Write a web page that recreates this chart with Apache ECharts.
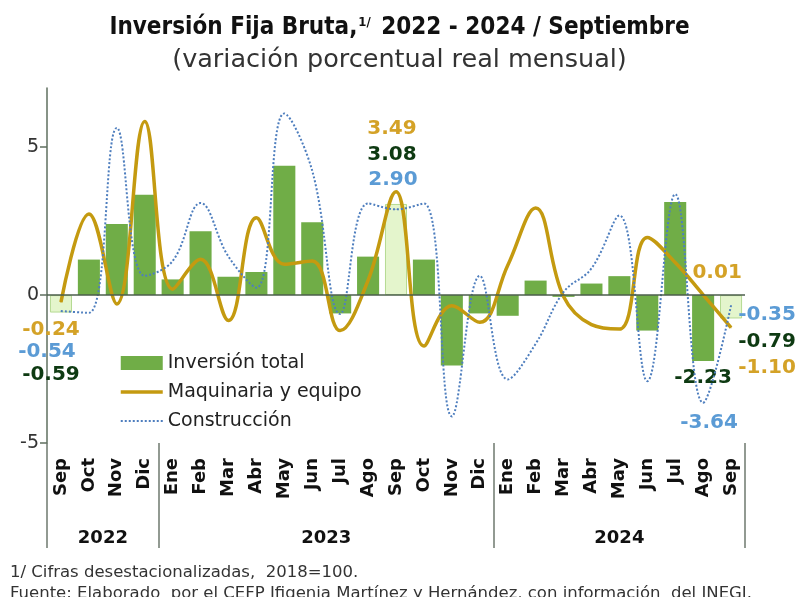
<!DOCTYPE html>
<html>
<head>
<meta charset="utf-8">
<script src="https://cdn.jsdelivr.net/npm/echarts@6/dist/echarts.min.js"></script>
<style>html,body{margin:0;padding:0;background:#fff}#c{width:799px;height:597px}</style>
</head>
<body>
<div id="c"></div>
<script>
var months = ['Sep','Oct','Nov','Dic','Ene','Feb','Mar','Abr','May','Jun','Jul','Ago','Sep','Oct','Nov','Dic','Ene','Feb','Mar','Abr','May','Jun','Jul','Ago','Sep'];
var years = ['2022','2023','2024'];
var yearLabelIndex = {1: '2022', 9: '2023', 20: '2024'};
var groupStarts = [0, 4, 16];
var yTicks = [-5, 0, 5];
var inversionTotal = [-0.59, 1.20, 2.40, 3.39, 0.53, 2.16, 0.62, 0.78, 4.37, 2.46, -0.62, 1.30, 3.08, 1.20, -2.38, -0.62, -0.70, 0.49, -0.06, 0.39, 0.64, -1.20, 3.15, -2.23, -0.79];
var maquinaria = [-0.24, 2.74, -0.30, 5.87, 0.20, 1.21, -0.86, 2.61, 1.04, 1.15, -1.20, 0.50, 3.49, -1.72, -0.36, -0.92, 1.00, 2.94, -0.05, -1.00, -1.15, 1.95, 1.10, 0.01, -1.10];
var construccion = [-0.54, -0.60, 5.65, 0.65, 1.15, 3.11, 1.30, 0.25, 6.14, 4.20, -0.64, 3.10, 2.90, 3.10, -4.10, 0.65, -2.85, -1.65, 0.10, 0.90, 2.69, -2.91, 3.41, -3.64, -0.35];
var highlightIdx = [0, 12, 24];

var FONT = 'DejaVu Sans';
var C_BAR = '#70AD47', C_BAR_L = '#E4F5CC', C_BAR_LB = '#B5DA92';
var C_GOLD = '#C49A10', C_GOLD_T = '#D4A227';
var C_BLUE = '#4E7EBE', C_BLUE_T = '#5B9BD5';
var C_GREEN_T = '#0E3A12';

// label offsets (pixels) per series for labeled indices
var labelOffsets = {
  bar:  {0: [-10, 71], 12: [-4, -95], 23: [0, 50], 24: [36, 35]},
  gold: {0: [-10, 28], 12: [-4, -63], 23: [14, -22], 24: [36, 40]},
  blue: {0: [-14, 41], 12: [-3, -29], 23: [6, 20], 24: [36, 9]}
};
var showLabels = {
  bar: [0, 12, 23, 24],
  gold: [0, 12, 23, 24],
  blue: [0, 12, 23, 24]
};

function lbl(color, off) {
  return {show: true, position: 'inside', offset: off, color: color, fontFamily: FONT,
    fontWeight: 'bold', fontSize: 20, textBorderWidth: 0,
    formatter: function (p) { return Number(p.value).toFixed(2); }};
}

var barData = inversionTotal.map(function (v, i) {
  var d = {value: v};
  if (highlightIdx.indexOf(i) >= 0) d.itemStyle = {color: C_BAR_L, borderColor: C_BAR_LB, borderWidth: 1};
  if (showLabels.bar.indexOf(i) >= 0) d.label = lbl(C_GREEN_T, labelOffsets.bar[i]);
  return d;
});
function lineData(arr, key, color) {
  return arr.map(function (v, i) {
    var d = {value: v};
    if (showLabels[key].indexOf(i) >= 0) {
      d.symbol = 'circle'; d.symbolSize = 1;
      d.label = lbl(color, labelOffsets[key][i]);
    }
    return d;
  });
}
var hiddenSym = {color: 'rgba(0,0,0,0)', borderWidth: 0, opacity: 0};

var chart = echarts.init(document.getElementById('c'));
chart.setOption({
  animation: false,
  backgroundColor: '#fff',
  textStyle: {fontFamily: FONT},
  title: [
    {text: '{b|Inversión Fija Bruta,}{s|1/}{b| 2022 - 2024 / Septiembre}', left: 'center', top: 11,
     textStyle: {rich: {
       b: {fontFamily: 'DejaVu Sans Condensed', fontWeight: 'bold', fontSize: 24, color: '#111'},
       s: {fontFamily: 'DejaVu Sans Condensed', fontSize: 13, color: '#111', padding: [0, 3, 11, 1]}
     }}},
    {text: '(variación porcentual real mensual)', left: 'center', top: 42,
     textStyle: {fontFamily: FONT, fontWeight: 'normal', fontSize: 25.5, color: '#333'}},
    {text: '1/ Cifras desestacionalizadas,  2018=100.', left: 5, top: 559,
     textStyle: {fontFamily: FONT, fontWeight: 'normal', fontSize: 16.5, color: '#333'}},
    {text: 'Fuente: Elaborado  por el CEFP Ifigenia Martínez y Hernández, con información  del INEGI.', left: 5, top: 580,
     textStyle: {fontFamily: FONT, fontWeight: 'normal', fontSize: 16.5, color: '#333'}}
  ],
  legend: {
    orient: 'vertical', left: 114, top: 348, itemWidth: 42, itemHeight: 14, itemGap: 9,
    textStyle: {fontFamily: FONT, fontSize: 19, color: '#222', lineHeight: 20},
    data: [
      {name: 'Inversión total', icon: 'rect'},
      {name: 'Maquinaria y equipo', itemStyle: hiddenSym, lineStyle: {color: C_GOLD, width: 3.5}},
      {name: 'Construcción', itemStyle: hiddenSym, lineStyle: {color: C_BLUE, width: 2, type: 'dotted'}}
    ]
  },
  grid: {left: 47, right: 54, top: 88, bottom: 154, containLabel: false},
  xAxis: [
    {type: 'category', data: months, position: 'bottom',
     axisLine: {show: false}, axisTick: {show: false},
     axisLabel: {interval: 0, rotate: 90, fontFamily: FONT, fontSize: 18, fontWeight: 'bold', color: '#111', margin: 15}},
    {type: 'category', data: months, position: 'bottom',
     axisLine: {show: false},
     axisTick: {show: true, length: 105, interval: function (i) { return groupStarts.indexOf(i) >= 0; },
       lineStyle: {color: '#6f7a6f', width: 1.5}},
     axisLabel: {interval: function (i) { return yearLabelIndex[i] !== undefined; }, margin: 86,
       formatter: function (v, i) {
         var y = yearLabelIndex[i];
         if (!y) return '';
         return (i === 20) ? '{n|' + y + '}' : '{r|' + y + '}';
       },
       rich: {
         r: {fontFamily: FONT, fontSize: 18, fontWeight: 'bold', color: '#111', padding: [0, 0, 0, 28]},
         n: {fontFamily: FONT, fontSize: 18, fontWeight: 'bold', color: '#111'}
       }}}
  ],
  yAxis: {
    type: 'value', min: -5, max: 7, interval: 5,
    axisLine: {show: true, lineStyle: {color: '#5f6f5f', width: 1.5}},
    axisTick: {show: true, length: 7, customValues: yTicks, lineStyle: {color: '#5f6f5f', width: 1.5}},
    splitLine: {show: false},
    axisLabel: {fontFamily: FONT, fontSize: 19, color: '#333', margin: 8, customValues: yTicks,
      formatter: function (v) { return (v % 5 === 0) ? String(v) : ''; }}
  },
  series: [
    {name: 'Inversión total', type: 'bar', data: barData, barCategoryGap: '21%',
     itemStyle: {color: C_BAR},
     markLine: {silent: true, symbol: ['none', 'none'], label: {show: false},
       lineStyle: {color: '#4b5e4b', width: 1.5, type: 'solid'}, data: [{yAxis: 0}]}},
    {name: 'Maquinaria y equipo', type: 'line', data: lineData(maquinaria, 'gold', C_GOLD_T), smooth: 0.4,
     symbol: 'none', showSymbol: true, lineStyle: {color: C_GOLD, width: 3.5}, itemStyle: {color: C_GOLD}, z: 3},
    {name: 'Construcción', type: 'line', data: lineData(construccion, 'blue', C_BLUE_T), smooth: 0.4,
     symbol: 'none', showSymbol: true, lineStyle: {color: C_BLUE, width: 2, type: 'dotted'}, itemStyle: {color: C_BLUE}, z: 4}
  ]
});
</script>
</body>
</html>
